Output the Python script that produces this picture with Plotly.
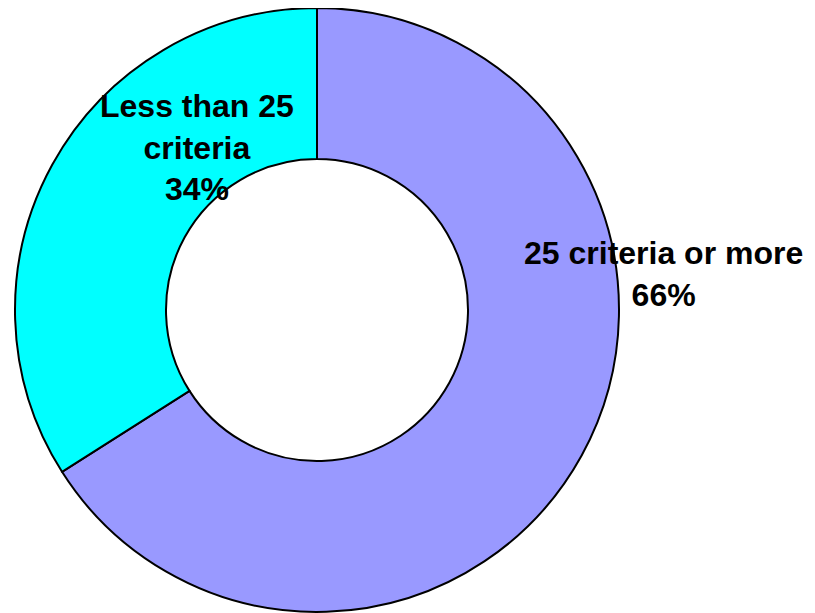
import plotly.graph_objects as go

labels = ["25 criteria or more", "Less than 25 criteria"]
values = [66, 34]
colors = ["#9999FF", "#00FFFF"]
label_text = ["25 criteria or more<br>66%", "Less than 25<br>criteria<br>34%"]

W, H = 815, 613
OFF = 8  # page body margin offset
fig = go.Figure()
fig.add_trace(go.Pie(
    labels=labels, values=values, hole=0.5, sort=False, direction="clockwise",
    rotation=0, marker=dict(colors=colors, line=dict(color="black", width=2)),
    textinfo="none", hoverinfo="label+percent", showlegend=False,
    domain=dict(x=[(15 - OFF) / W, (619 - OFF) / W],
                y=[1 - (612 - OFF) / H, 1 - (8 - OFF) / H]),
))

ann_pos = [(663, 274), (197, 148)]
for txt, (ax, ay) in zip(label_text, ann_pos):
    fig.add_annotation(
        x=(ax - OFF) / W, y=1 - (ay - OFF) / H, xref="paper", yref="paper", text=txt,
        showarrow=False, xanchor="center", yanchor="middle", align="center",
        font=dict(family="Liberation Sans, Arial, sans-serif", size=32, color="black", weight="bold"),
    )

fig.update_layout(width=W, height=H, margin=dict(l=0, r=0, t=0, b=0),
                  paper_bgcolor="white", plot_bgcolor="white")
fig.write_html("out.html")
